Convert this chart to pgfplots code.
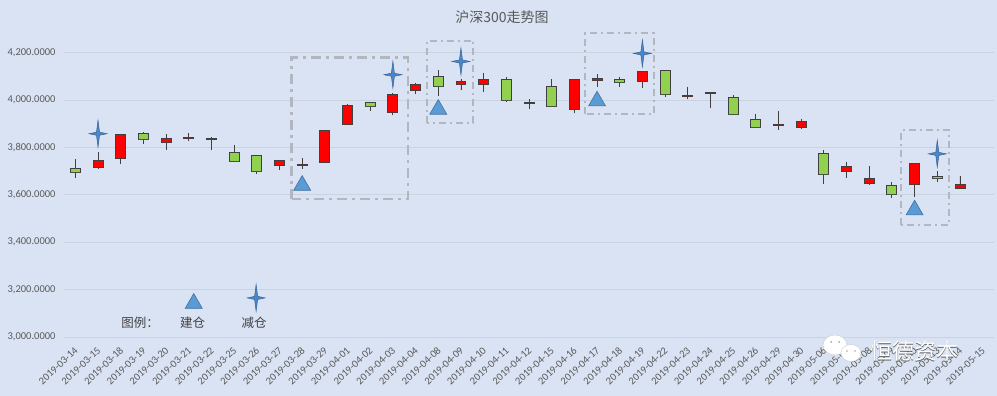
\documentclass[border=0pt]{standalone}
\usepackage{pgfplots}
\pgfplotsset{compat=1.18}
\usepgfplotslibrary{statistics}
\usepackage{fontspec}
\setmainfont{Carlito}
\newfontfamily\cjk{Noto Sans CJK SC}
\definecolor{bg}{RGB}{218,227,243}
\definecolor{gridc}{RGB}{203,211,225}
\definecolor{txt}{RGB}{89,89,89}
\definecolor{upred}{RGB}{255,0,0}
\definecolor{dngreen}{RGB}{146,208,80}
\definecolor{edge}{RGB}{64,64,64}
\definecolor{tri}{RGB}{91,155,213}
\definecolor{trid}{RGB}{65,113,156}
\definecolor{starc}{RGB}{74,134,200}
\definecolor{boxc}{RGB}{178,182,190}

\pgfdeclareplotmark{star4}{%
  \pgfpathmoveto{\pgfqpoint{0pt}{1.5\pgfplotmarksize}}%
  \pgfpathlineto{\pgfqpoint{0.17\pgfplotmarksize}{0.17\pgfplotmarksize}}%
  \pgfpathlineto{\pgfqpoint{\pgfplotmarksize}{0pt}}%
  \pgfpathlineto{\pgfqpoint{0.17\pgfplotmarksize}{-0.17\pgfplotmarksize}}%
  \pgfpathlineto{\pgfqpoint{0pt}{-1.5\pgfplotmarksize}}%
  \pgfpathlineto{\pgfqpoint{-0.17\pgfplotmarksize}{-0.17\pgfplotmarksize}}%
  \pgfpathlineto{\pgfqpoint{-\pgfplotmarksize}{0pt}}%
  \pgfpathlineto{\pgfqpoint{-0.17\pgfplotmarksize}{0.17\pgfplotmarksize}}%
  \pgfpathclose
  \pgfusepathqfillstroke
}

% #1 position, #2 open, #3 high, #4 low, #5 close
\newcommand\up[5]{\addplot[candle, fill=upred, boxplot prepared={draw position=#1, lower whisker=#4, lower quartile=#2, median=#2, upper quartile=#5, upper whisker=#3}] coordinates {};}
\newcommand\dn[5]{\addplot[candle, fill=dngreen, boxplot prepared={draw position=#1, lower whisker=#4, lower quartile=#5, median=#5, upper quartile=#2, upper whisker=#3}] coordinates {};}

\begin{document}
\begin{tikzpicture}[x=1pt,y=1pt]
\fill[bg] (0,0) rectangle (997,396);
\begin{axis}[
  at={(64pt,59pt)}, anchor=south west,
  scale only axis, width=930pt, height=284.3pt,
  xmin=-0.5, xmax=40.5, ymin=3000, ymax=4200,
  ytick={3000,3200,...,4200},
  xtick={0,...,40},
  xticklabels={2019-03-14,2019-03-15,2019-03-18,2019-03-19,2019-03-20,2019-03-21,2019-03-22,2019-03-25,2019-03-26,2019-03-27,2019-03-28,2019-03-29,2019-04-01,2019-04-02,2019-04-03,2019-04-04,2019-04-08,2019-04-09,2019-04-10,2019-04-11,2019-04-12,2019-04-15,2019-04-16,2019-04-17,2019-04-18,2019-04-19,2019-04-22,2019-04-23,2019-04-24,2019-04-25,2019-04-26,2019-04-29,2019-04-30,2019-05-06,2019-05-07,2019-05-08,2019-05-09,2019-05-10,2019-05-13,2019-05-14,2019-05-15},
  axis line style={draw=none},
  major tick length=0pt,
  ymajorgrids, grid style={gridc, line width=0.8pt},
  /pgf/number format/assume math mode=true,
  yticklabel style={font=\fontsize{10.5}{12}\selectfont, text=txt, xshift=-5pt,
    /pgf/number format/fixed, /pgf/number format/fixed zerofill,
    /pgf/number format/precision=4, /pgf/number format/1000 sep={,}},
  xticklabel style={font=\fontsize{10.5}{12}\selectfont, text=txt, yshift=-12pt, xshift=1pt, rotate=43, anchor=east, inner sep=0pt},
  clip=false,
  boxplot/draw direction=y,
  boxplot/box extend=0.44,
  boxplot/whisker extend=0,
  boxplot/every median/.style={draw=none},
  candle/.style={draw=edge, line width=0.9pt, solid, mark=none},
]
\dn{0}{3710}{3752}{3672}{3696}
\up{1}{3714}{3781}{3712}{3744}
\up{2}{3752}{3856}{3731}{3854}
\dn{3}{3858}{3865}{3816}{3833}
\up{4}{3823}{3855}{3790}{3838}
\up{5}{3838}{3861}{3826}{3842}
\up{6}{3835}{3844}{3788}{3839}
\dn{7}{3778}{3809}{3738}{3742}
\dn{8}{3765}{3769}{3686}{3700}
\up{9}{3723}{3748}{3703}{3744}
\up{10}{3726}{3757}{3710}{3730}
\up{11}{3738}{3875}{3736}{3872}
\up{12}{3899}{3985}{3898}{3977}
\dn{13}{3990}{3991}{3954}{3973}
\up{14}{3946}{4028}{3939}{4023}
\up{15}{4039}{4074}{4025}{4066}
\dn{16}{4100}{4125}{4018}{4056}
\up{17}{4064}{4087}{4042}{4079}
\up{18}{4064}{4115}{4035}{4087}
\dn{19}{4087}{4098}{3991}{3997}
\up{20}{3986}{4004}{3964}{3990}
\dn{21}{4057}{4087}{3974}{3975}
\up{22}{3959}{4088}{3944}{4087}
\up{23}{4081}{4108}{4056}{4091}
\dn{24}{4087}{4096}{4056}{4073}
\up{25}{4077}{4122}{4049}{4121}
\dn{26}{4124}{4125}{4013}{4024}
\up{27}{4016}{4057}{4003}{4020}
\up{28}{4029}{4033}{3965}{4033}
\dn{29}{4013}{4020}{3936}{3940}
\dn{30}{3919}{3940}{3885}{3886}
\up{31}{3895}{3954}{3873}{3899}
\up{32}{3886}{3919}{3880}{3911}
\dn{33}{3773}{3790}{3647}{3685}
\up{34}{3700}{3737}{3673}{3719}
\up{35}{3646}{3723}{3645}{3670}
\dn{36}{3639}{3654}{3586}{3601}
\up{37}{3642}{3732}{3589}{3731}
\dn{38}{3677}{3700}{3654}{3668}
\up{39}{3629}{3681}{3629}{3643}
% annotation boxes
\draw[boxc, line width=2.5pt, dash pattern=on 10pt off 5pt on 3pt off 5pt] (axis cs:9.54,3583) rectangle (axis cs:14.66,4180.5);
\draw[boxc, line width=2pt, dash pattern=on 7pt off 4pt on 2pt off 4pt] (axis cs:15.49,3903.4) rectangle (axis cs:17.55,4249.6);
\draw[boxc, line width=2pt, dash pattern=on 7pt off 4pt on 2pt off 4pt] (axis cs:22.47,3943.2) rectangle (axis cs:25.49,4282);
\draw[boxc, line width=2pt, dash pattern=on 7pt off 4pt on 2pt off 4pt] (axis cs:36.41,3473) rectangle (axis cs:38.52,3872.5);
% 建仓 (open position) markers, last point is the legend sample
\addplot[only marks, mark=triangle*, mark size=9.8pt, mark options={fill=tri, draw=trid, line width=0.6pt}] coordinates {(10,3640) (16,3961) (23,3996) (37,3536) (5.22,3142)};
% 减仓 (reduce position) markers, last point is the legend sample
\addplot[only marks, mark=star4, mark size=9pt, mark options={fill=starc, draw=starc!75!black, line width=0.5pt}] coordinates {(1,3858) (14,4107) (17,4163) (25,4197) (38,3773) (7.97,3165)};
\end{axis}
% title
\node[text=txt] at (502,378.5) {\cjk\fontsize{14}{16}\selectfont 沪深300走势图};
% legend texts
\node[text=edge] at (140,73.5) {\cjk\fontsize{12.5}{14}\selectfont 图例：};
\node[text=edge] at (192.5,73.5) {\cjk\fontsize{12.5}{14}\selectfont 建仓};
\node[text=edge] at (254,73.5) {\cjk\fontsize{12.5}{14}\selectfont 减仓};
% watermark
\fill[white, draw=gray!40] (835,51) ellipse (12 and 10);
\fill[white, draw=gray!40] (851,43) ellipse (10 and 8.5);
\fill[gray!70] (831,54) circle (1) (839,54) circle (1) (847,45) circle (0.9) (855,45) circle (0.9);
\node[text=gray!75!black] at (914.8,44.3) {\cjk\fontsize{22}{24}\selectfont 恒德资本};
\node[text=white] at (914,45) {\cjk\fontsize{22}{24}\selectfont 恒德资本};
\end{tikzpicture}
\end{document}
